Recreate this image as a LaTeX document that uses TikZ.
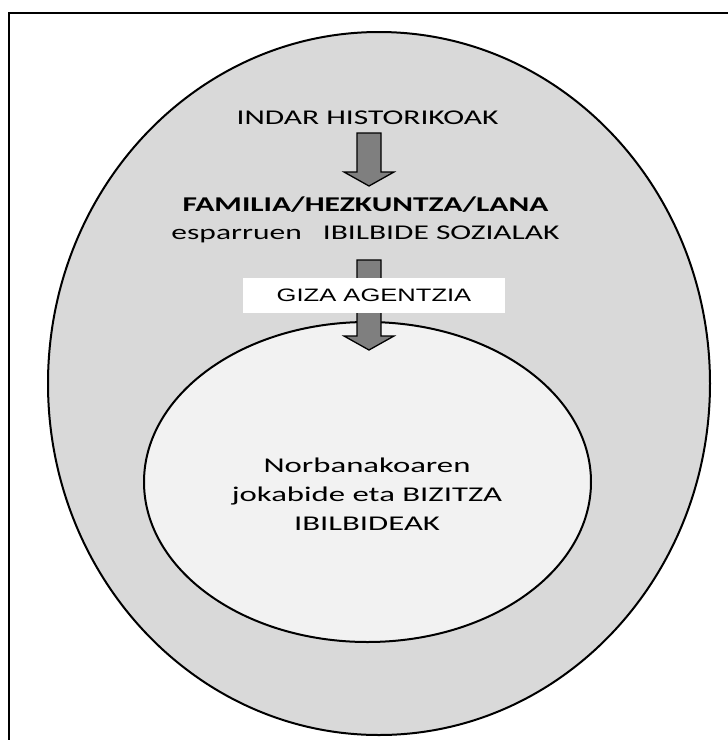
\documentclass[tikz,border=0pt]{standalone}
\usepackage{fontspec}
\setmainfont{Carlito}
\newfontfamily\widefont[FakeStretch=1.5]{Carlito}
\newfontfamily\lifefont[FakeStretch=1.56]{Carlito}
\newfontfamily\boxfont[FakeStretch=1.42]{Liberation Sans}
\usetikzlibrary{positioning,calc,shapes.geometric}
\definecolor{outergray}{HTML}{D9D9D9}
\definecolor{innergray}{HTML}{F2F2F2}
\definecolor{arrowgray}{HTML}{7F7F7F}
\tikzset{ring/.style={draw,ellipse,line width=2pt,inner sep=0pt},
         caption/.style={font=\widefont\fontsize{21}{29}\selectfont,inner sep=0pt,align=center},
         agency/.style={fill=white,minimum width=262,minimum height=35,inner sep=0pt,
                        font=\boxfont\fontsize{18}{22}\selectfont},
         bigarrow/.style={draw,fill=arrowgray,line width=1.3pt,line join=miter}
}
\newcommand{\blockarr}[2]{%
  \draw[bigarrow] let \p1=(#1), \p2=(#2) in
    (\x1-12pt,\y1) -- (\x1+12pt,\y1) -- (\x1+12pt,\y2+14pt) -- (\x1+25pt,\y2+14pt)
    -- (\x1,\y2) -- (\x1-25pt,\y2+14pt) -- (\x1-12pt,\y2+14pt) -- cycle;}

\begin{document}
\begin{tikzpicture}[x=1pt,y=1pt]
\useasboundingbox (0,0) rectangle (728,-740);

% frame
\coordinate (framecorner) at (9,-13);
\draw[line width=2.5pt] (framecorner |- 0,-740) -- (framecorner) -- (728,-13);

% the two ellipses
\node[ring,fill=outergray,minimum width=662,minimum height=703] (outer) at (379,-383.5) {};
\node[ring,fill=innergray,minimum width=447,minimum height=320] (inner) at (367.5,-482) {};

% texts
\node[caption] (hist) at (367.5,-118) {INDAR HISTORIKOAK};
\node[caption,font=\widefont\bfseries\fontsize{21}{29}\selectfont] (fam) at (365.5,-205) {FAMILIA/HEZKUNTZA/LANA};
\node[caption,below=13 of fam] (spheres) {esparruen\hspace*{21pt}IBILBIDE SOZIALAK};
\node[caption,font=\lifefont\fontsize{21}{29}\selectfont] (life) at (367,-494) {Norbanakoaren\\jokabide eta BIZITZA\\IBILBIDEAK};

% arrows
\coordinate (histfoot) at (369,-133);
\coordinate (famhead) at (369,-186);
\coordinate (socfoot) at (369,-260);
\coordinate (lifehead) at (369,-350);
\blockarr{histfoot}{famhead}
\blockarr{socfoot}{lifehead}

\node[agency] (agent) at (374,-295.5) {GIZA AGENTZIA};

\end{tikzpicture}
\end{document}
